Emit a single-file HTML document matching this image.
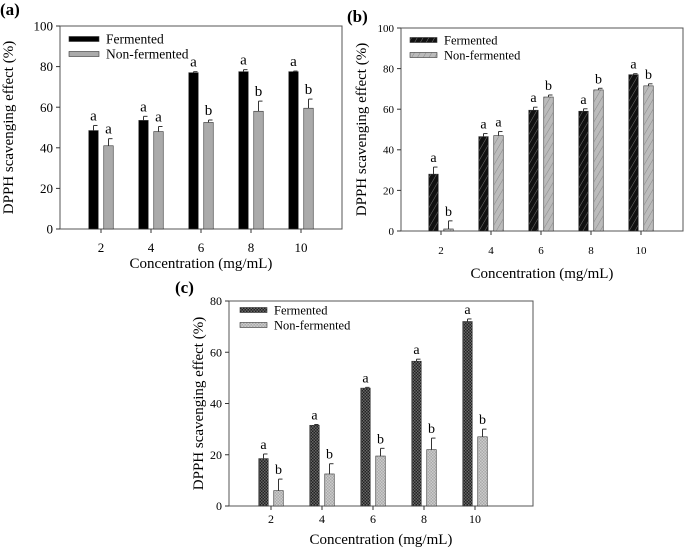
<!DOCTYPE html>
<html><head><meta charset="utf-8"><style>
body{margin:0;background:#fff}
svg{display:block}
svg text{font-family:'Liberation Serif',serif !important}
</style></head><body>
<svg id="s" width="685" height="548" viewBox="0 0 685 548" xmlns="http://www.w3.org/2000/svg">
<defs>
<pattern id="hb" width="5" height="5" patternUnits="userSpaceOnUse" patternTransform="rotate(30)"><rect width="5" height="5" fill="#111"/><line x1="0" y1="0" x2="0" y2="5" stroke="#777" stroke-width="1"/></pattern>
<pattern id="hg" width="5" height="5" patternUnits="userSpaceOnUse" patternTransform="rotate(30)"><rect width="5" height="5" fill="#bbb"/><line x1="0" y1="0" x2="0" y2="5" stroke="#888" stroke-width="1"/></pattern>
<pattern id="cb" width="3" height="3" patternUnits="userSpaceOnUse"><rect width="3" height="3" fill="#222"/><rect width="1.5" height="1.5" fill="#666"/><rect x="1.5" y="1.5" width="1.5" height="1.5" fill="#666"/></pattern>
<pattern id="cg" width="3" height="3" patternUnits="userSpaceOnUse"><rect width="3" height="3" fill="#aaa"/><rect width="1.5" height="1.5" fill="#ccc"/><rect x="1.5" y="1.5" width="1.5" height="1.5" fill="#ccc"/></pattern>
</defs>
</svg>
<script>
const categories=["2","4","6","8","10"];
const aFerm=[48.5,53.5,77,77.5,77.5], aFermErr=[2.5,2,0.5,1,0.3];
const aNon=[41,48,52.5,58,59.5], aNonErr=[3.5,2.5,1.2,5,4.5];
const aLetF=["a","a","a","a","a"], aLetN=["a","a","b","b","b"];
const aTicks=[0,20,40,60,80,100];
const bFerm=[28,46.5,59.5,59,77], bFermErr=[3.5,1.5,1.5,1.2,0.5];
const bNon=[1,47,66,69.5,71.5], bNonErr=[4,2,1,0.8,1];
const bLetF=["a","a","a","a","a"], bLetN=["b","a","b","b","b"];
const bTicks=[0,20,40,60,80,100];
const cFerm=[18.5,31.5,46,56.5,72], cFermErr=[1.8,0.3,0.3,0.8,1];
const cNon=[6,12.5,19.5,22,27], cNonErr=[4.5,4,3,4.5,3];
const cLetF=["a","a","a","a","a"], cLetN=["b","b","b","b","b"];
const cTicks=[0,20,40,60,80];

const svg=document.getElementById('s');
const NS='http://www.w3.org/2000/svg';
function mk(tag,at,parent){const e=document.createElementNS(NS,tag);for(const k in at)e.setAttribute(k,at[k]);(parent||svg).appendChild(e);return e;}
function txt(s,at,parent){const e=mk('text',at,parent);e.style.fontFamily="'Liberation Serif', serif";e.textContent=s;return e;}

function panel(o){
  const g=mk('g',{});
  
  
  const ymax=o.ticks[o.ticks.length-1];
  const y=v=>o.b-(v/ymax)*(o.b-o.t);
  const x=i=>o.c0+i*o.step;
  const fr=mk('rect',{x:o.l,y:o.t,width:o.r-o.l,height:o.b-o.t,fill:'none',stroke:'#555','stroke-width':1},g);
  
  
  o.ticks.forEach(v=>{
    mk('line',{x1:o.l-4,x2:o.l,y1:y(v),y2:y(v),stroke:'#333'},g);
    const t=txt(String(v),{x:o.l-7,y:y(v)+o.fs*0.35,'text-anchor':'end','font-size':o.fs},g);
    
    
  });
  categories.forEach((c,i)=>{
    mk('line',{x1:x(i),x2:x(i),y1:o.b,y2:o.b+4,stroke:'#333'},g);
    const t=txt(c,{x:x(i),y:o.xly,'text-anchor':'middle','font-size':o.fs},g);
    
    
    [[o.F,o.FE,o.LF,o.fillF,-1],[o.N,o.NE,o.LN,o.fillN,1]].forEach(([vals,errs,lets,fill,s])=>{
      const cx=x(i)+s*7.5, w=9.5, v=vals[i], e=errs[i];
      const r=mk('rect',{x:cx-w/2,y:y(v),width:w,height:o.b-y(v),fill:fill,stroke:'#333','stroke-width':0.6},g);
      
      
      mk('line',{x1:cx,x2:cx,y1:y(v),y2:y(v+e),stroke:'#333'},g);
      mk('line',{x1:cx,x2:cx+4,y1:y(v+e),y2:y(v+e),stroke:'#333'},g);
      const l=txt(lets[i],{x:cx,y:y(v+e)-5,'text-anchor':'middle','font-size':o.lets},g);
      
      
    });
  });
  const yt=txt('DPPH scavenging effect (%)',{x:o.ytx,y:(o.t+o.b)/2,'text-anchor':'middle','font-size':o.tfs,transform:`rotate(-90 ${o.ytx} ${(o.t+o.b)/2})`},g);
  
  
  const xt=txt('Concentration (mg/mL)',{x:(o.l+o.r)/2,y:o.xty,'text-anchor':'middle','font-size':o.tfs},g);
  
  
  const pl=txt('('+o.id+')',{x:o.px,y:o.py,'font-size':17,'font-weight':'bold'},g);
  
  
  [['Fermented',o.fillF,o.ly1],['Non-fermented',o.fillN,o.ly2]].forEach(([n,f,ly])=>{
    const lg=mk('g',{},g);
    
    
    mk('rect',{x:o.lx,y:ly-2.5,width:o.lw,height:5,fill:f,stroke:'#333','stroke-width':0.6},lg);
    txt(n,{x:o.lx+o.lw+7,y:ly+o.lfs*0.35,'font-size':o.lfs},lg);
  });
}
panel({id:'a',l:60,r:342,t:26,b:229,c0:101,step:50,ticks:aTicks,F:aFerm,FE:aFermErr,N:aNon,NE:aNonErr,LF:aLetF,LN:aLetN,fillF:'#000',fillN:'#aaa',fs:13,lets:15,tfs:15,lfs:13.5,ytx:13,xly:252,xty:268,px:0,py:15,lx:69,lw:30,ly1:39,ly2:54});
panel({id:'b',l:401,r:683,t:28,b:231,c0:441,step:50,ticks:bTicks,F:bFerm,FE:bFermErr,N:bNon,NE:bNonErr,LF:bLetF,LN:bLetN,fillF:'url(#hb)',fillN:'url(#hg)',fs:11,lets:14,tfs:15,lfs:12.5,ytx:366,xly:254,xty:278,px:347,py:22,lx:410,lw:27,ly1:40,ly2:55});
panel({id:'c',l:229,r:533,t:301,b:506,c0:271,step:51,ticks:cTicks,F:cFerm,FE:cFermErr,N:cNon,NE:cNonErr,LF:cLetF,LN:cLetN,fillF:'url(#cb)',fillN:'url(#cg)',fs:12,lets:14,tfs:15,lfs:12.5,ytx:203,xly:523,xty:544,px:175,py:293,lx:240,lw:27,ly1:310,ly2:325});
</script>
</body></html>
